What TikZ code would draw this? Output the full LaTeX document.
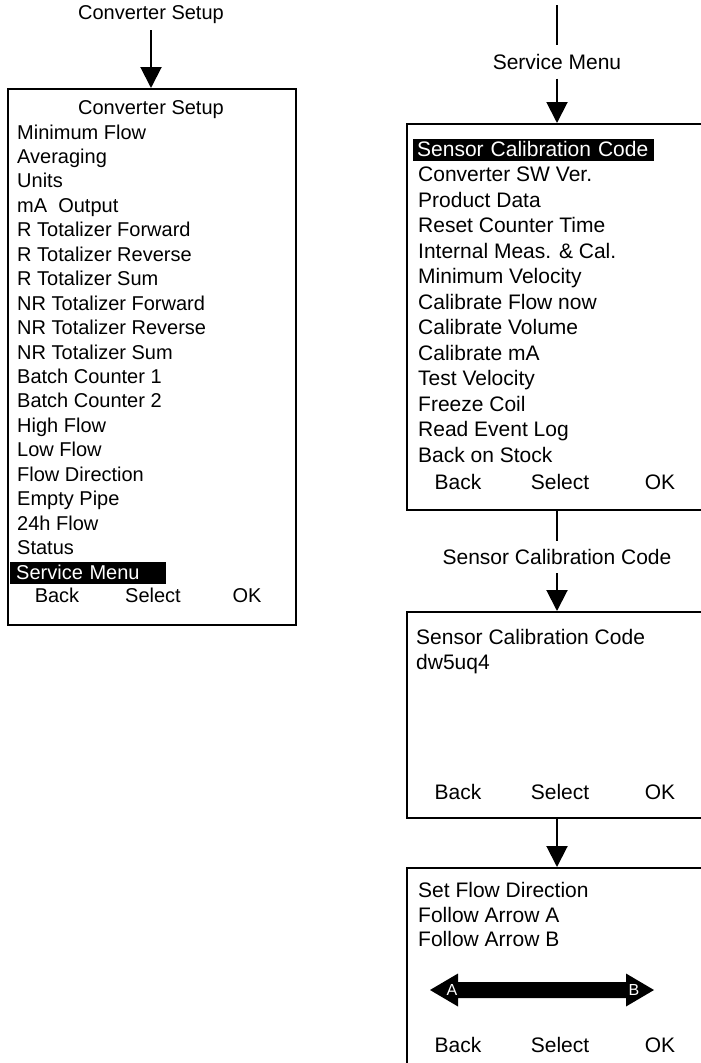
\documentclass[tikz,border=0pt]{standalone}
\usepackage{fontspec}
\setmainfont{Liberation Sans}
\usepackage{xcolor}
\usepackage{tikz}
\usetikzlibrary{arrows.meta}

\tikzset{
    screen/.style={draw, line width=2pt, inner sep=0pt, anchor=north west},
    item/.style={anchor=base west, inner sep=0pt, text height=14pt, text depth=4pt},
    lbl/.style={inner sep=0pt, minimum height=32pt},
    hilite/.style={anchor=base west, fill=black, text=white, inner ysep=1pt, text height=16pt, text depth=4pt, align=left},
    flow/.style={line width=2pt, -{Triangle[length=21pt,width=21pt]}},
    wire/.style={line width=2pt}
}

\begin{document}
\begin{tikzpicture}[x=1pt, y=-1pt, font=\fontsize{20}{24}\selectfont]
    \clip (0,0) rectangle (701,1063);
    \fill[white] (0,0) rectangle (701,1063);

    \node[lbl, minimum height=30pt] (setuplbl) at (151,15) {Converter Setup};
    \node[screen, minimum width=288pt, minimum height=536pt] (setup) at (7,88) {};
    \draw[flow] (setuplbl.south) -- (setuplbl.south |- setup.north);
    \node[item, anchor=base] (setuptitle) at (151,114) {Converter Setup};
    \foreach \t [count=\i from 0] in {Minimum Flow, Averaging, Units, mA~~Output, R Totalizer Forward, R Totalizer Reverse, R Totalizer Sum, NR Totalizer Forward, NR Totalizer Reverse, NR Totalizer Sum, Batch Counter 1, Batch Counter 2, High Flow, Low Flow, Flow Direction, Empty Pipe, 24h Flow, Status}
        \node[item] (setup\i) at (17,139+24.45*\i) {\t};
    \node[hilite, inner xsep=6pt, text width=144pt] (setupsel) at (10,579) {Service Menu};
    \node[item, anchor=base] (setupback) at (57,602) {Back};
    \node[item, anchor=base] (setupselect) at (153,602) {Select};
    \node[item, anchor=base] (setupok) at (247,602) {OK};

    \begin{scope}[font=\fontsize{21}{24}\selectfont]
    \coordinate (svctop) at (557,5);
    \node[lbl, minimum height=33pt] (svclbl) at (557,62) {Service Menu};
    \draw[wire] (svctop) -- (svclbl.north);
    \node[screen, minimum width=314pt, minimum height=386pt] (svc) at (406,123) {};
    \draw[flow] (svclbl.south) -- (svclbl.south |- svc.north);
    \node[hilite, inner xsep=4pt, text width=233pt] (svcsel) at (413,156) {Sensor Calibration Code};
    \foreach \t [count=\i from 1] in {Converter SW Ver., Product Data, Reset Counter Time, Internal Meas. \& Cal., Minimum Velocity, Calibrate Flow now, Calibrate Volume, Calibrate mA, Test Velocity, Freeze Coil, Read Event Log, Back on Stock}
        \node[item] (svc\i) at (418,156+25.5*\i) {\t};
    \node[item, anchor=base] (svcback) at (458,489) {Back};
    \node[item, anchor=base] (svcselect) at (560,489) {Select};
    \node[item, anchor=base] (svcok) at (660,489) {OK};

    \node[lbl, minimum height=32pt] (codelbl) at (557,557) {Sensor Calibration Code};
    \draw[wire] (svclbl |- svc.south) -- (codelbl.north);
    \node[screen, minimum width=314pt, minimum height=206pt] (code) at (406,611) {};
    \draw[flow] (codelbl.south) -- (codelbl.south |- code.north);
    \node[item] (codetitle) at (416,644) {Sensor Calibration Code};
    \node[item] (codeval) at (416,669) {dw5uq4};
    \node[item, anchor=base] (codeback) at (458,799) {Back};
    \node[item, anchor=base] (codeselect) at (560,799) {Select};
    \node[item, anchor=base] (codeok) at (660,799) {OK};

    \node[screen, minimum width=314pt, minimum height=220pt] (dir) at (406,867) {};
    \draw[flow] (codelbl |- code.south) -- (codelbl |- dir.north);
    \node[item] (dir1) at (418,897) {Set Flow Direction};
    \node[item] (dir2) at (418,922) {Follow Arrow A};
    \node[item] (dir3) at (418,946) {Follow Arrow B};
    \fill (430,990) -- (458,973.5) -- (458,982) -- (626,982) -- (626,973.5) -- (654,990)
        -- (626,1006.5) -- (626,998) -- (458,998) -- (458,1006.5) -- cycle;
    \node[text=white, inner sep=0pt, font=\fontsize{16}{18}\selectfont] (arra) at (452,990) {A};
    \node[text=white, inner sep=0pt, font=\fontsize{16}{18}\selectfont] (arrb) at (634,990) {B};
    \node[item, anchor=base] (dirback) at (458,1052) {Back};
    \node[item, anchor=base] (dirselect) at (560,1052) {Select};
    \node[item, anchor=base] (dirok) at (660,1052) {OK};
    \end{scope}
\end{tikzpicture}
\end{document}
